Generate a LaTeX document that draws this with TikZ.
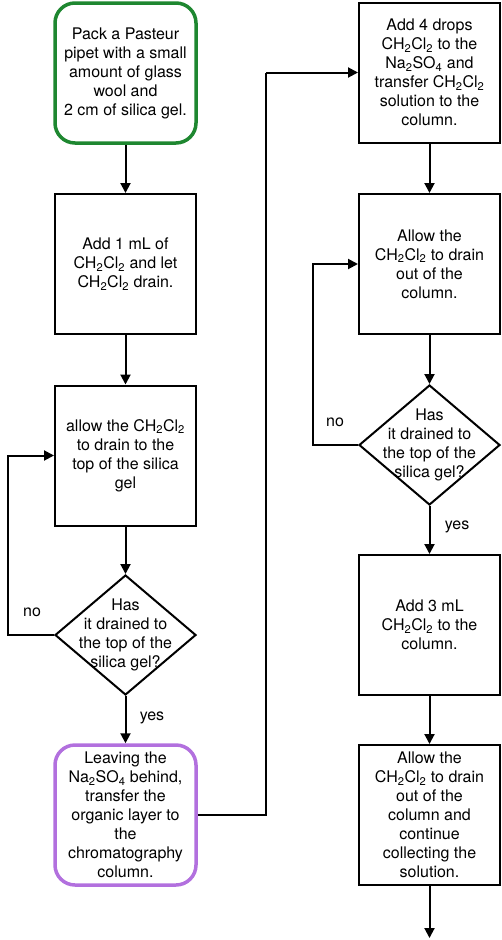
\documentclass[tikz,border=0pt]{standalone}
\usepackage{fontspec}
\setmainfont{TeX Gyre Heros}
\usetikzlibrary{arrows.meta,shapes.geometric}
\definecolor{startgreen}{RGB}{30,135,48}
\definecolor{endpurple}{RGB}{178,112,222}
\newcommand{\chcl}{CH\textsubscript{2}Cl\textsubscript{2}}
\newcommand{\nasulf}{Na\textsubscript{2}SO\textsubscript{4}}
\tikzset{
stepbox/.style={draw, line width=2pt, minimum width=141pt, minimum height=140pt, inner sep=0pt, align=center},
startbox/.style={stepbox, draw=startgreen, line width=3.5pt, rounded corners=20pt},
endbox/.style={stepbox, draw=endpurple, line width=3.5pt, rounded corners=20pt},
check/.style={draw, line width=2pt, diamond, minimum width=141pt, minimum height=120pt, inner sep=0pt},
flow/.style={line width=2pt, -{Triangle[length=10pt,width=10pt]}},
link/.style={line width=2pt}
}

\begin{document}
\begin{tikzpicture}[x=1pt, y=-1pt, font=\fontsize{16}{19}\selectfont]
\useasboundingbox (0,0) rectangle (502,940);
\node[startbox] (start) at (125.5,73) {Pack a Pasteur\\pipet with a small\\amount of glass\\wool and\\2 cm of silica gel.};
\node[stepbox] (addone) at (125.5,264) {Add 1 mL of\\\chcl{} and let\\\chcl{} drain.};
\node[stepbox] (drainA) at (125.5,455.5) {allow the \chcl\\to drain to the\\top of the silica\\gel};
\node[check, label={[align=center]center:{Has\\it drained to\\the top of the\\silica gel?}}] (checkA) at (125.5,635) {};
\node[endbox] (transfer) at (125.5,815) {Leaving the\\\nasulf{} behind,\\transfer the\\organic layer to\\the\\chromatography\\column.};

\node[stepbox] (rinse) at (429.5,72.5) {Add 4 drops\\\chcl{} to the\\\nasulf{} and\\transfer \chcl\\solution to the\\column.};
\node[stepbox] (drainB) at (429.5,264) {Allow the\\\chcl{} to drain\\out of the\\column.};
\node[check, label={[align=center]center:{Has\\it drained to\\the top of the\\silica gel?}}] (checkB) at (429.5,445) {};
\node[stepbox] (addthree) at (429.5,625) {Add 3 mL\\\chcl{} to the\\column.};
\node[stepbox] (collect) at (429.5,815) {Allow the\\\chcl{} to drain\\out of the\\column and\\continue\\collecting the\\solution.};

\coordinate (loopA) at (8,635);
\coordinate (loopB) at (313,445);
\coordinate (turn) at (266,72.5);
\coordinate (finish) at (429.5,938);

\draw[flow] (start) -- (addone);
\draw[flow] (addone) -- (drainA);
\draw[flow] (drainA) -- (checkA);
\draw[flow] (checkA) -- (transfer);
\draw[flow] (checkA.west) -- (loopA) |- (drainA.west);
\draw[link] (transfer.east) -| (turn);
\draw[flow] (turn) -- (rinse.west);
\draw[flow] (rinse) -- (drainB);
\draw[flow] (drainB) -- (checkB);
\draw[flow] (checkB) -- (addthree);
\draw[flow] (checkB.west) -- (loopB) |- (drainB.west);
\draw[flow] (addthree) -- (collect);
\draw[flow] (collect) -- (finish);

\node (noA) at (32,612) {no};
\node (yesA) at (152,718) {yes};
\node (noB) at (335,422) {no};
\node (yesB) at (457,527) {yes};
\end{tikzpicture}
\end{document}
